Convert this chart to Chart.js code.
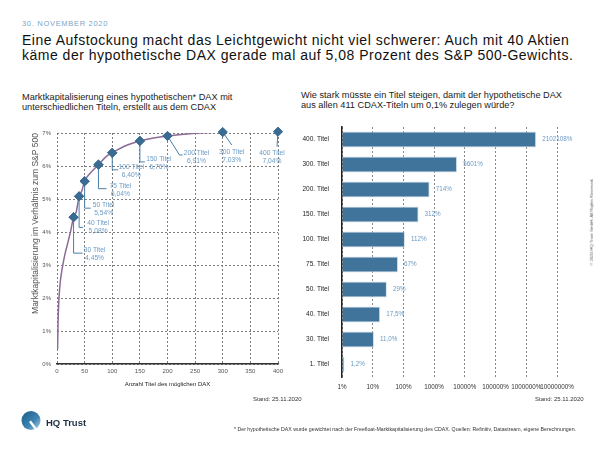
<!DOCTYPE html>
<html><head><meta charset="utf-8">
<script src="https://cdn.jsdelivr.net/npm/chart.js@4/dist/chart.umd.min.js"></script>
<style>
body{margin:0;width:600px;height:450px;position:relative;background:#fff;font-family:"Liberation Sans",Arial,sans-serif;overflow:hidden}
.t{position:absolute;white-space:nowrap;}
canvas{position:absolute;}
</style></head><body>
<div class="t" style="left:22px;top:18.6px;font-size:7.5px;letter-spacing:0.7px;line-height:9px;color:#7aa5ca">30. NOVEMBER 2020</div>
<div class="t" style="left:22px;top:33px;font-size:14px;letter-spacing:0.5px;line-height:15px;color:#111">Eine Aufstockung macht das Leichtgewicht nicht viel schwerer: Auch mit 40 Aktien<br>käme der hypothetische DAX gerade mal auf 5,08 Prozent des S&amp;P 500-Gewichts.</div>
<div class="t" style="left:22px;top:91.7px;font-size:9.2px;line-height:10px;color:#222">Marktkapitalisierung eines hypothetischen* DAX mit<br>unterschiedlichen Titeln, erstellt aus dem CDAX</div>
<div class="t" style="left:301px;top:89.5px;font-size:9.2px;line-height:10px;color:#222">Wie stark müsste ein Titel steigen, damit der hypothetische DAX<br>aus allen 411 CDAX-Titeln um 0,1% zulegen würde?</div>

<canvas id="c1" width="300" height="280" style="left:0;top:120px"></canvas>
<canvas id="c2" width="310" height="285" style="left:290px;top:115px"></canvas>

<div class="t" style="left:253px;top:395px;font-size:6px;line-height:8px;color:#333">Stand: 25.11.2020</div>
<div class="t" style="left:535px;top:395px;font-size:6px;line-height:8px;color:#333">Stand: 25.11.2020</div>
<div class="t" style="left:234px;top:425px;font-size:6px;line-height:8px;color:#333;transform:scale(0.87);transform-origin:0 50%">* Der hypothetische DAX wurde gewichtet nach der Freefloat-Marktkapitalisierung des CDAX. Quellen: Refinitiv, Datastream, eigene Berechnungen.</div>
<div class="t" style="left:591px;top:222px;font-size:6px;line-height:6px;color:#555;transform:translate(-50%,-50%) rotate(-90deg) scale(0.72);transform-origin:50% 50%">© 2020 HQ Trust GmbH. All Rights Reserved.</div>

<svg style="position:absolute;left:20px;top:410px" width="24" height="24" viewBox="0 0 24 24">
<defs><linearGradient id="g" x1="0" y1="0" x2="1" y2="1"><stop offset="0" stop-color="#1b5a87"/><stop offset="0.6" stop-color="#3f86b4"/><stop offset="1" stop-color="#bcd6e6"/></linearGradient></defs>
<circle cx="11" cy="10.5" r="9.5" fill="url(#g)"/>
<path d="M11 10.5 Q14 15 20 22 L17 22 Q12 16 9 12 Z" fill="#fff"/>
</svg>
<div class="t" style="left:46px;top:417px;font-size:9.5px;font-weight:bold;line-height:12px;color:#1e2f44">HQ Trust</div>

<script>
// ---- Left chart data ----
const curveTitles = [1, 2, 3, 4, 6, 9, 14, 20, 25, 30, 35, 40, 45, 50, 60, 75, 90, 100, 125, 150, 175, 200, 250, 300, 350, 400];
const curveValues = [0.45, 1.3, 1.8, 2.1, 2.5, 2.85, 3.3, 3.7, 4.05, 4.45, 4.62, 5.08, 5.25, 5.54, 5.78, 6.04, 6.3, 6.40, 6.62, 6.76, 6.85, 6.91, 6.99, 7.03, 7.04, 7.04];
const markerTitles = [30, 40, 50, 75, 100, 150, 200, 300, 400];
const markerValues = [4.45, 5.08, 5.54, 6.04, 6.40, 6.76, 6.91, 7.03, 7.04];
const markerLabels = ['4,45%', '5,08%', '5,54%', '6,04%', '6,40%', '6,76%', '6,91%', '7,03%', '7,04%'];
const yTickLabels = ['0%', '1%', '2%', '3%', '4%', '5%', '6%', '7%'];
const xTitleLeft = 'Anzahl Titel des möglichen DAX';
const yTitleLeft = 'Marktkapitalisierung im Verhältnis zum S&P 500';

// ---- Right chart data ----
const barCategories = ['400. Titel', '300. Titel', '200. Titel', '150. Titel', '100. Titel', '75. Titel', '50. Titel', '40. Titel', '30. Titel', '1. Titel'];
const barValues = [2102108, 5601, 714, 312, 112, 67, 29, 17.5, 11.0, 1.2];
const barLabels = ['2102108%', '5601%', '714%', '312%', '112%', '67%', '29%', '17,5%', '11,0%', '1,2%'];
const logTickValues = [1, 10, 100, 1000, 10000, 100000, 1000000, 10000000];
const logTickLabels = ['1%', '10%', '100%', '1000%', '10000%', '100000%', '1000000%', '10000000%'];

// ---- styling (callout leader geometry, relative to marker, pixels) ----
const calloutLeaders = [
  [[0,0],[0,36],[9,36]],
  [[0,0],[0,31],[4,31]],
  [[0,0],[0,27],[6,27]],
  [[0,0],[0,24],[8,24]],
  [[0,0],[0,17],[6,17]],
  [[0,0],[0,21],[5,21]],
  [[0,0],[12,19],[15,19]],
  [[0,0],[9,13]],
  [[0,0],[-1,15]]
];
const calloutText = [[21,33],[19,27],[19,24],[22,21],[19,14],[19,18],[29,17],[9,20],[-6,21]];

Chart.defaults.font.family = '"Liberation Sans", Arial, sans-serif';
Chart.defaults.devicePixelRatio = 1;

const calloutPlugin = {
  id: 'callouts',
  afterDatasetsDraw(chart) {
    const meta = chart.getDatasetMeta(1);
    const ctx = chart.ctx;
    ctx.save();
    meta.data.forEach((pt, i) => {
      const x = pt.x, y = pt.y;
      ctx.strokeStyle = '#4a7ea7';
      ctx.lineWidth = 1;
      ctx.beginPath();
      calloutLeaders[i].forEach((p, k) => {
        if (k === 0) ctx.moveTo(x + p[0], y + p[1]); else ctx.lineTo(x + p[0], y + p[1]);
      });
      ctx.stroke();
      ctx.fillStyle = '#6b9bc4';
      ctx.font = '6.7px "Liberation Sans", Arial, sans-serif';
      ctx.textAlign = 'center';
      ctx.textBaseline = 'middle';
      const tx = x + calloutText[i][0], ty = y + calloutText[i][1];
      ctx.fillText(markerTitles[i] + ' Titel', tx, ty);
      ctx.fillText(markerLabels[i], tx, ty + 8);
    });
    ctx.restore();
    meta.controller.draw();
  }
};

new Chart(document.getElementById('c1'), {
  type: 'line',
  data: {
    datasets: [
      {
        data: curveTitles.map((t, i) => ({x: t, y: curveValues[i]})),
        borderColor: '#8d6b97', borderWidth: 1.5, pointRadius: 0,
        cubicInterpolationMode: 'monotone', fill: false
      },
      {
        data: markerTitles.map((t, i) => ({x: t, y: markerValues[i]})),
        showLine: false, pointStyle: 'rectRot', pointRadius: 4.6,
        pointBackgroundColor: '#3a6b93', pointBorderColor: '#3a6b93', pointBorderWidth: 1
      }
    ]
  },
  options: {
    responsive: false, animation: false,
    layout: {padding: {left: 27, top: 13, right: 22, bottom: 0}},
    plugins: {legend: {display: false}, tooltip: {enabled: false}},
    scales: {
      x: {
        type: 'linear', min: 0, max: 400,
        ticks: {stepSize: 50, font: {size: 6}, color: '#555', padding: 4, maxRotation: 0},
        grid: {color: '#6e6e6e', lineWidth: 0.9, drawTicks: false},
        border: {display: true, color: '#333', width: 1.5, dash: [2, 2]},
        title: {display: true, text: xTitleLeft, font: {size: 6}, color: '#222', padding: {top: 0, bottom: 12}},
        afterFit: s => { s.height = 36; }
      },
      y: {
        min: 0, max: 7,
        ticks: {stepSize: 1, callback: (v, i) => yTickLabels[i], font: {size: 6}, color: '#555', padding: 6},
        grid: {color: '#6e6e6e', lineWidth: 0.9, drawTicks: false},
        border: {display: false, dash: [2, 2]},
        title: {display: true, text: yTitleLeft, align: 'end', font: {size: 8.5}, color: '#555', padding: {top: 4, bottom: 0}},
        afterFit: s => { s.width = 30; }
      }
    }
  },
  plugins: [calloutPlugin]
});

const barLabelPlugin = {
  id: 'barLabels',
  afterDatasetsDraw(chart) {
    const meta = chart.getDatasetMeta(0);
    const ctx = chart.ctx;
    ctx.save();
    ctx.fillStyle = '#6b9bc4';
    ctx.font = '6.3px "Liberation Sans", Arial, sans-serif';
    ctx.textAlign = 'left';
    ctx.textBaseline = 'middle';
    meta.data.forEach((b, i) => {
      ctx.fillText(barLabels[i], b.x + 6, b.y);
    });
    ctx.restore();
  }
};

new Chart(document.getElementById('c2'), {
  type: 'bar',
  data: {
    labels: barCategories,
    datasets: [{
      data: barValues,
      backgroundColor: '#41749b', borderColor: '#d3e0ea', borderWidth: 1,
      barPercentage: 0.8, categoryPercentage: 0.8, base: 1
    }]
  },
  options: {
    indexAxis: 'y', responsive: false, animation: false,
    layout: {padding: {left: 0, top: 12, right: 43, bottom: 0}},
    plugins: {legend: {display: false}, tooltip: {enabled: false}},
    scales: {
      x: {
        type: 'logarithmic', min: 1, max: 10000000,
        afterBuildTicks: s => { s.ticks = logTickValues.map(v => ({value: v})); },
        ticks: {callback: (v, i) => logTickLabels[i], font: {size: 6.3}, color: '#333', padding: 6, maxRotation: 0, autoSkip: false},
        grid: {color: '#7a7a7a', lineWidth: 0.9, drawTicks: false},
        border: {display: false, dash: [2, 2]},
        afterFit: s => { s.height = 23; }
      },
      y: {
        ticks: {font: {size: 6.5}, color: '#222', padding: 5},
        grid: {display: false},
        border: {display: true, color: '#222', width: 1.5},
        afterFit: s => { s.width = 52; }
      }
    }
  },
  plugins: [barLabelPlugin]
});
</script>
</body></html>
